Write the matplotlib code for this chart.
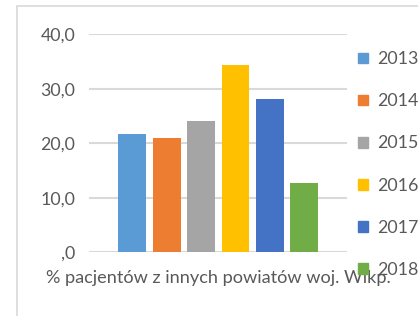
import matplotlib
matplotlib.use("Agg")
import matplotlib.pyplot as plt
import matplotlib.patches as mpatches

years = ["2013", "2014", "2015", "2016", "2017", "2018"]
values = [21.7, 21.0, 24.1, 34.4, 28.1, 12.7]
colors = ["#5B9BD5", "#ED7D31", "#A5A5A5", "#FFC000", "#4472C4", "#70AD47"]
yticks = [0, 10, 20, 30, 40]
ytick_labels = [",0", "10,0", "20,0", "30,0", "40,0"]
xlabel = "% pacjentów z innych powiatów woj. Wlkp."

plt.rcParams["font.family"] = ["Lato", "DejaVu Sans"]
txt = "#595959"

fig = plt.figure(figsize=(4.18, 3.16), dpi=100)
ax = fig.add_axes([0.213, 0.2016, 0.617, 0.69])

x = list(range(len(years)))
bars = ax.bar(x, values, width=0.81, color=colors, zorder=3)

ax.set_ylim(0, 40)
ax.set_xlim(-1.26, 6.24)
ax.set_yticks(yticks)
ax.set_yticklabels(ytick_labels, color=txt, fontsize=12.8)
ax.set_xticks([])
ax.tick_params(axis="y", length=0, pad=10)
ax.grid(axis="y", color="#d9d9d9", linewidth=1.5, zorder=0)
for s in ax.spines.values():
    s.set_visible(False)
ax.set_xlabel(xlabel, color=txt, fontsize=13.1, labelpad=13)

handles = [mpatches.Patch(color=c) for c in colors]
leg = fig.legend(handles, years, loc="upper left", bbox_to_anchor=(0.857, 0.838),
                 frameon=False, fontsize=12.8, labelcolor=txt,
                 handlelength=0.55, handleheight=0.55, handletextpad=0.5,
                 labelspacing=1.47, borderpad=0, borderaxespad=0)

# chart border
fig.patches.append(mpatches.Rectangle((17 / 418, -0.1), 1.2, 1 - 6 / 316 + 0.1,
                                      transform=fig.transFigure, fill=False,
                                      edgecolor="#d9d9d9", linewidth=1.2))

fig.savefig("out.png", dpi=100)
